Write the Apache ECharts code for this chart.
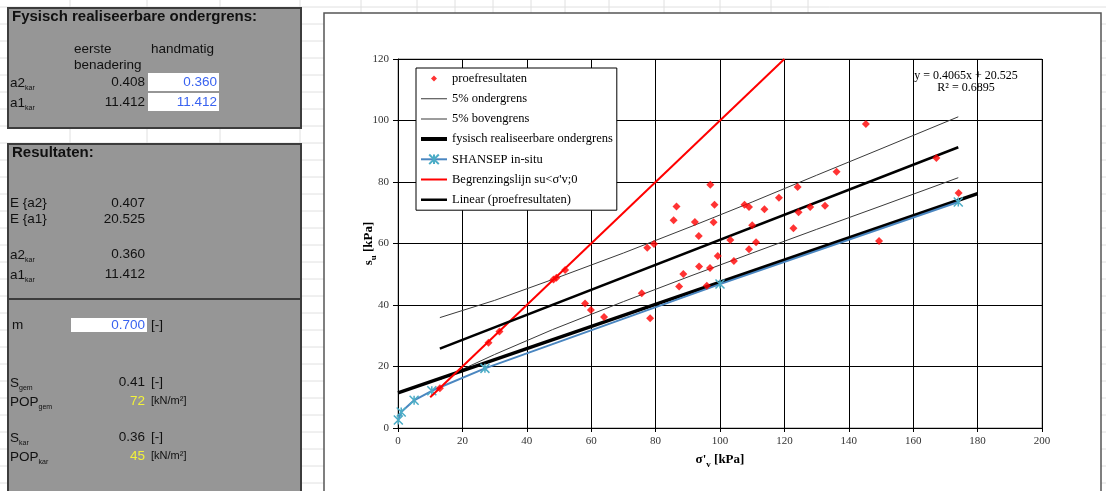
<!DOCTYPE html>
<html><head><meta charset="utf-8">
<script src="https://cdn.jsdelivr.net/npm/echarts@6/dist/echarts.min.js"></script>
<style>html,body{margin:0;padding:0;background:#fff}#c{width:1106px;height:491px}</style>
</head><body><div id="c"></div>
<script>
// ---- data ----
const proefX = [13.0,28.1,31.5,48.3,49.2,51.9,58.1,59.9,64.0,75.7,77.4,79.5,78.3,85.6,86.5,87.3,88.6,92.2,93.4,93.5,95.9,96.9,97.0,98.3,98.0,99.3,103.2,104.3,107.6,109.0,110.0,109.0,111.2,113.8,118.3,122.8,124.1,124.4,128.0,132.6,136.2,145.3,149.4,167.2,174.1];
const proefY = [12.9,27.7,31.4,48.3,48.9,51.4,40.5,38.4,36.1,43.8,58.6,59.8,35.7,67.6,72.0,46.0,50.1,67.0,62.4,52.5,46.3,52.0,79.1,72.6,66.9,55.9,61.1,54.3,72.6,71.9,65.9,58.1,60.4,71.1,74.9,65.0,78.4,70.2,71.9,72.3,83.3,98.9,60.8,87.8,76.4];
const bandX   = [13,30,48,70,91,110,130,150,174];
const onderY  = [15.7,23.9,32.0,41.1,49.5,56.9,64.6,72.2,81.4];
const bovenY  = [35.9,41.5,48.3,56.9,65.5,73.5,82.2,90.8,101.2];
const fysischX = [0,180];
const fysischY = [11.4,76.2];
const shansepX = [0.1,1,5,10.5,27,100,174];
const shansepY = [2.6,5.2,9.0,12.1,19.4,46.8,73.5];
const grensX = [10,120];
const grensY = [10,120];
const trendX = [13,174];
const trendY = [25.8,91.3];
const xTickLabels = ['0','20','40','60','80','100','120','140','160','180','200'];
const yTickLabels = ['0','20','40','60','80','100','120'];
const seriesNames = ['proefresultaten','5% ondergrens','5% bovengrens','fysisch realiseerbare ondergrens','SHANSEP in-situ',"Begrenzingslijn su<σ'v;0",'Linear (proefresultaten)'];

const pairs = (xs, ys) => xs.map((x, i) => [x, ys[i]]);

// ---- spreadsheet decoration ----
const SANS = '"Liberation Sans", Arial, sans-serif';
const SERIF = '"Liberation Serif", "Times New Roman", serif';
const els = [];
for (let y = 7; y < 491; y += 17) {
  els.push({type:'line', z:-100, shape:{x1:0,y1:y,x2:1106,y2:y}, style:{stroke:'#e0e0e0', lineWidth:1}});
}
[70,147,220,300,361,417,455,493,531,565,609,664,720,771,808].forEach(x => {
  els.push({type:'line', z:-100, shape:{x1:x,y1:0,x2:x,y2:491}, style:{stroke:'#e0e0e0', lineWidth:1}});
});
// chart frame
els.push({type:'rect', z:-90, shape:{x:324,y:13,width:777,height:490}, style:{fill:'#fff', stroke:'#555', lineWidth:1.5}});
// panels
els.push({type:'rect', z:-90, shape:{x:8,y:8,width:293,height:120}, style:{fill:'#969696', stroke:'#3c3c3c', lineWidth:2}});
els.push({type:'rect', z:-90, shape:{x:8,y:144,width:293,height:155}, style:{fill:'#969696', stroke:'#3c3c3c', lineWidth:2}});
els.push({type:'rect', z:-90, shape:{x:8,y:299,width:293,height:200}, style:{fill:'#969696', stroke:'#3c3c3c', lineWidth:2}});
// input cells
[[148,73,71,18],[148,93,71,18],[71,318,76,14]].forEach(r => {
  els.push({type:'rect', z:-80, shape:{x:r[0],y:r[1],width:r[2],height:r[3]}, style:{fill:'#fff'}});
});

function t(x, y, text, o) {
  o = o || {};
  const st = {text: text, x: x, y: y, fill: o.fill || '#111', font: o.font || ('13.5px ' + SANS),
    align: o.align || 'left', verticalAlign: 'middle', textAlign: o.align || 'left', textVerticalAlign: 'middle'};
  if (o.rich) st.rich = o.rich;
  els.push({type:'text', z:100, style: st});
}
const subRich = {
  m: {fontSize: 13.5, fontFamily: SANS, lineHeight: 18, verticalAlign: 'middle', color: '#111'},
  s: {fontSize: 7, fontFamily: SANS, lineHeight: 18, verticalAlign: 'bottom', color: '#111'}
};
function ts(x, y, main, sub) { t(x, y, '{m|' + main + '}{s|' + sub + '}', {rich: subRich}); }

t(12, 17, 'Fysisch realiseerbare ondergrens:', {font: 'bold 15px ' + SANS});
t(74, 49, 'eerste'); t(74, 65, 'benadering'); t(151, 49, 'handmatig');
ts(10, 83, 'a2', 'kar'); t(145, 82, '0.408', {align:'right'}); t(217, 82, '0.360', {align:'right', fill:'#3a63f0'});
ts(10, 103, 'a1', 'kar'); t(145, 102, '11.412', {align:'right'}); t(217, 102, '11.412', {align:'right', fill:'#3a63f0'});

t(12, 153, 'Resultaten:', {font: 'bold 15px ' + SANS});
t(10, 203, 'E {a2}'); t(145, 203, '0.407', {align:'right'});
t(10, 219, 'E {a1}'); t(145, 219, '20.525', {align:'right'});
ts(10, 255, 'a2', 'kar'); t(145, 254, '0.360', {align:'right'});
ts(10, 275, 'a1', 'kar'); t(145, 274, '11.412', {align:'right'});

t(12, 325, 'm'); t(145, 325, '0.700', {align:'right', fill:'#3a63f0'}); t(151, 325, '[-]');
ts(10, 383, 'S', 'gem'); t(145, 382, '0.41', {align:'right'}); t(151, 382, '[-]');
ts(10, 402, 'POP', 'gem'); t(145, 401, '72', {align:'right', fill:'#f2f23a'}); t(151, 401, '[kN/m²]', {font:'11px ' + SANS});
ts(10, 438, 'S', 'kar'); t(145, 437, '0.36', {align:'right'}); t(151, 437, '[-]');
ts(10, 457, 'POP', 'kar'); t(145, 456, '45', {align:'right', fill:'#f2f23a'}); t(151, 456, '[kN/m²]', {font:'11px ' + SANS});

// trendline equation
t(966, 76, 'y = 0.4065x + 20.525', {align:'center', font:'12px ' + SERIF, fill:'#000'});
t(966, 88, 'R² = 0.6895', {align:'center', font:'12px ' + SERIF, fill:'#000'});

const starPath = 'path://M0,0L10,10M10,0L0,10M5,0L5,10';
const diamondIcon = 'path://M0,0L0.01,0M26,12L26.01,12M10,6L13,3L16,6L13,9Z';
const barIcon = (h) => 'path://M0,0L0.01,0M26,12L26.01,12M0,' + (6 - h / 2) + 'L26,' + (6 - h / 2) + 'L26,' + (6 + h / 2) + 'L0,' + (6 + h / 2) + 'Z';

const chart = echarts.init(document.getElementById('c'), null, {renderer: 'canvas'});
chart.setOption({
  backgroundColor: '#ffffff',
  animation: false,
  graphic: {elements: els},
  grid: {left: 398, top: 59, width: 644, height: 369, show: true, borderColor: '#8a8a8a', borderWidth: 1, backgroundColor: 'transparent'},
  legend: {
    orient: 'vertical', left: 416, top: 68, padding: 4, itemGap: 7.2,
    itemWidth: 26, itemHeight: 12, backgroundColor: '#fff', borderColor: '#000', borderWidth: 1, borderRadius: 0,
    textStyle: {fontFamily: SERIF, fontSize: 12.5, color: '#000'},
    data: [
      {name: seriesNames[0], icon: diamondIcon, itemStyle: {color: '#ff0000'}},
      {name: seriesNames[1], icon: barIcon(1), itemStyle: {color: '#3a3a3a'}},
      {name: seriesNames[2], icon: barIcon(1), itemStyle: {color: '#3a3a3a'}},
      {name: seriesNames[3], icon: barIcon(4), itemStyle: {color: '#000'}},
      {name: seriesNames[4]},
      {name: seriesNames[5], icon: barIcon(2.2), itemStyle: {color: '#ff0000'}},
      {name: seriesNames[6], icon: barIcon(2.6), itemStyle: {color: '#000'}}
    ]
  },
  xAxis: {
    type: 'value', min: 0, max: 200, interval: 20,
    axisLine: {show: true, onZero: false, lineStyle: {color: '#000', width: 1}},
    axisTick: {show: true, length: 4, lineStyle: {color: '#000'}},
    splitLine: {show: true, lineStyle: {color: '#000', width: 1}},
    axisLabel: {margin: 8, fontFamily: SERIF, fontSize: 11, color: '#333', formatter: v => xTickLabels[Math.round(v / 20)]},
    name: "{b|σ'}{s|v}{b| [kPa]}", nameLocation: 'middle', nameGap: 23, nameMoveOverlap: false,
    nameTextStyle: {rich: {
      b: {fontFamily: SERIF, fontSize: 13, fontWeight: 'bold', color: '#000', lineHeight: 18, verticalAlign: 'middle'},
      s: {fontFamily: SERIF, fontSize: 9, fontWeight: 'bold', color: '#000', lineHeight: 18, verticalAlign: 'bottom'}
    }}
  },
  yAxis: {
    type: 'value', min: 0, max: 120, interval: 20,
    axisLine: {show: true, onZero: false, lineStyle: {color: '#000', width: 1}},
    axisTick: {show: true, length: 5, lineStyle: {color: '#000'}},
    splitLine: {show: true, lineStyle: {color: '#000', width: 1}},
    axisLabel: {margin: 9, fontFamily: SERIF, fontSize: 11, color: '#333', formatter: v => yTickLabels[Math.round(v / 20)]},
    name: '{b|s}{s|u}{b| [kPa]}', nameLocation: 'middle', nameGap: 20, nameRotate: 90, nameMoveOverlap: false,
    nameTextStyle: {rich: {
      b: {fontFamily: SERIF, fontSize: 13, fontWeight: 'bold', color: '#000', lineHeight: 18, verticalAlign: 'middle'},
      s: {fontFamily: SERIF, fontSize: 9, fontWeight: 'bold', color: '#000', lineHeight: 18, verticalAlign: 'bottom'}
    }}
  },
  series: [
    {name: seriesNames[0], type: 'scatter', data: pairs(proefX, proefY), symbol: 'diamond', symbolSize: 8, itemStyle: {color: '#ff0000'}, z: 6},
    {name: seriesNames[1], type: 'line', data: pairs(bandX, onderY), symbol: 'none', lineStyle: {color: '#3a3a3a', width: 1}, itemStyle: {color: '#3a3a3a'}, z: 2},
    {name: seriesNames[2], type: 'line', data: pairs(bandX, bovenY), symbol: 'none', lineStyle: {color: '#3a3a3a', width: 1}, itemStyle: {color: '#3a3a3a'}, z: 2},
    {name: seriesNames[3], type: 'line', data: pairs(fysischX, fysischY), symbol: 'none', lineStyle: {color: '#000', width: 3.5}, itemStyle: {color: '#000'}, z: 3},
    {name: seriesNames[4], type: 'line', data: pairs(shansepX, shansepY), symbol: starPath, symbolSize: 9,
      lineStyle: {color: '#4a86c0', width: 2}, itemStyle: {color: '#4bacc6', borderColor: '#4bacc6', borderWidth: 1.5}, z: 3},
    {name: seriesNames[5], type: 'line', data: pairs(grensX, grensY), symbol: 'none', lineStyle: {color: '#ff0000', width: 2}, itemStyle: {color: '#ff0000'}, z: 4},
    {name: seriesNames[6], type: 'line', data: pairs(trendX, trendY), symbol: 'none', lineStyle: {color: '#000', width: 2.5}, itemStyle: {color: '#000'}, z: 4}
  ]
});
</script></body></html>
